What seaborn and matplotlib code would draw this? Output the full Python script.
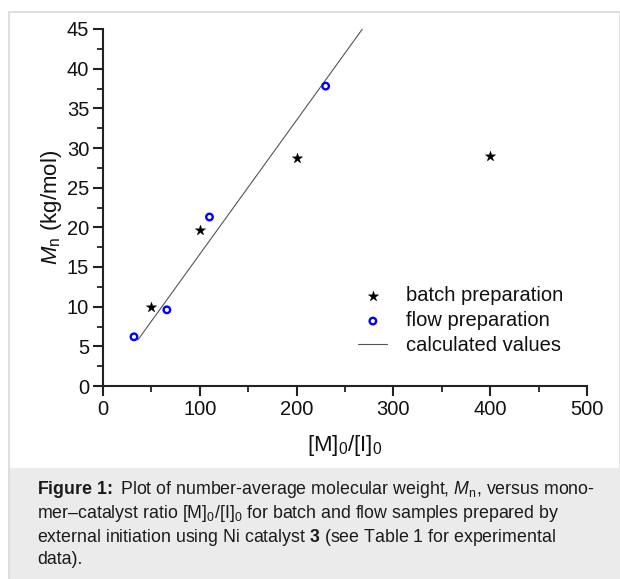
import matplotlib
matplotlib.use("Agg")
import matplotlib.pyplot as plt
import seaborn as sns
import numpy as np
from matplotlib.patches import Rectangle

# ---- data ----
batch_ratio = [50, 100, 200, 400]
batch_mn = [10.0, 19.7, 28.7, 29.0]
flow_ratio = [32, 66, 110, 230]
flow_mn = [6.2, 9.6, 21.3, 37.8]
calc_ratio = [36, 268]
calc_mn = [5.8, 45.0]
x_ticks = [0, 100, 200, 300, 400, 500]
y_ticks = [0, 5, 10, 15, 20, 25, 30, 35, 40, 45]

sns.set_style("ticks")
plt.rcParams['font.family'] = ['Liberation Sans', 'DejaVu Sans']
plt.rcParams['mathtext.fontset'] = 'custom'
plt.rcParams['mathtext.rm'] = 'Liberation Sans'
plt.rcParams['mathtext.it'] = 'Liberation Sans:italic'
plt.rcParams['mathtext.bf'] = 'Liberation Sans:bold'

W, H = 620, 579
fig = plt.figure(figsize=(W / 100, H / 100), dpi=100)

# outer frame and caption box
fig.patches.append(Rectangle((9 / W, 0), (W - 9) / W, (H - 12) / H, transform=fig.transFigure,
                             facecolor='white', edgecolor='#d8d8d8', lw=1.2, zorder=-2))
fig.patches.append(Rectangle((9.5 / W, 0), (W - 9) / W, (H - 468) / H, transform=fig.transFigure,
                             facecolor='#ebebeb', edgecolor='none', zorder=-1))

ax = fig.add_axes([103 / W, 1 - 386 / H, (587 - 103) / W, (386 - 29) / H])
ax.set_facecolor('none')

sns.lineplot(x=calc_ratio, y=calc_mn, ax=ax, color='#555555', lw=0.8, label='calculated values')
sns.scatterplot(x=batch_ratio, y=batch_mn, ax=ax, marker='*', color='black', s=60,
                edgecolor='black', linewidth=0.3, label='batch preparation', zorder=3)
sns.scatterplot(x=flow_ratio, y=flow_mn, ax=ax, marker='o', facecolor='none',
                edgecolor='#0000ff', linewidth=1.7, s=22, label='flow preparation', zorder=3)

ax.set_xlim(0, 500)
ax.set_ylim(0, 45)
ax.set_xticks(x_ticks)
ax.set_yticks(y_ticks)
ax.set_xticks(np.arange(50, 500, 100), minor=True)
ax.set_yticks(np.arange(2.5, 45, 5), minor=True)
for s in ['top', 'right']:
    ax.spines[s].set_visible(False)
for s in ['left', 'bottom']:
    ax.spines[s].set_linewidth(1.5)
    ax.spines[s].set_color('#222222')
ax.tick_params(which='major', length=7, width=1.5, labelsize=14.5, color='#222222', labelcolor='#111111', pad=3)
ax.tick_params(which='minor', length=4, width=1.3, color='#222222')

ax.set_xlabel(r'[M]$_0$/[I]$_0$', fontsize=16, labelpad=10, color='#111111')
ax.set_ylabel(r'$M$$_\mathrm{n}$ (kg/mol)', fontsize=16, labelpad=2, color='#111111')

handles, labels = ax.get_legend_handles_labels()
order = [labels.index('batch preparation'), labels.index('flow preparation'), labels.index('calculated values')]
leg = ax.legend([handles[i] for i in order], [labels[i] for i in order],
                loc='upper left', bbox_to_anchor=(0.49, 0.33), frameon=False,
                fontsize=14.5, handlelength=1.45, handletextpad=0.9, labelspacing=0.3,
                labelcolor='#111111')

# caption
cap_x = 37 / W
lines = [
    r'$\mathbf{Figure\ 1\!:}$ Plot of number-average molecular weight, $M$$_\mathrm{n}$, versus mono-',
    r'mer–catalyst ratio [M]$_0$/[I]$_0$ for batch and flow samples prepared by',
    r'external initiation using Ni catalyst $\mathbf{3}$ (see Table 1 for experimental',
    r'data).',
]
ys = [489, 513, 537, 560]
for t, yy in zip(lines, ys):
    fig.text(cap_x, 1 - yy / H, t, fontsize=12.8, va='center', ha='left', color='#1a1a1a')

fig.savefig('out.png', dpi=100)
